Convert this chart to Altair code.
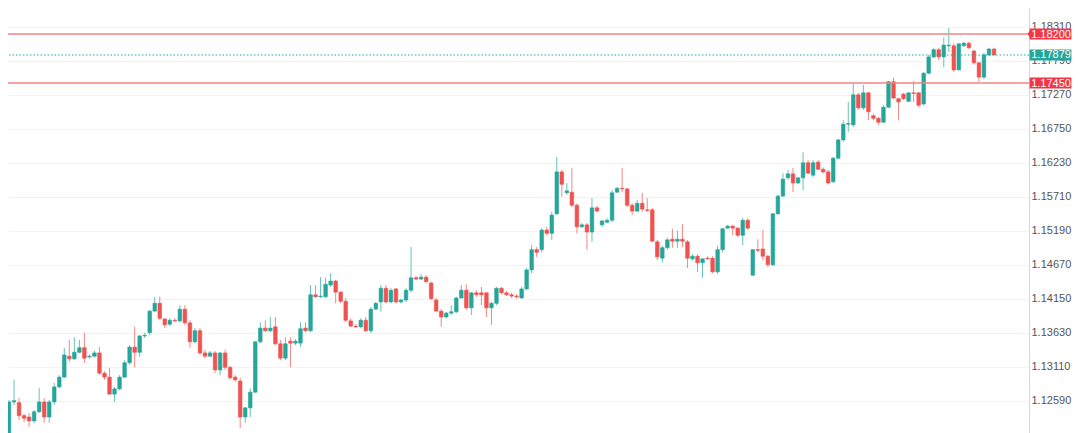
import altair as alt
import pandas as pd

opens = [1.1199,1.1257,1.1256,1.1236,1.1234,1.1228,1.1242,1.1257,1.1234,1.1257,
1.1280,1.1295,1.1327,1.1323,1.1333,1.1340,1.1326,1.1327,1.1332,1.1301,
1.1295,1.1269,1.1277,1.1295,1.1317,1.1341,1.1333,1.1358,1.1363,1.1396,
1.1408,1.1384,1.1376,1.1382,1.1381,1.1399,1.1378,1.1349,1.1366,1.1332,
1.1327,1.1332,1.1306,1.1332,1.1310,1.1295,1.1289,1.1234,1.1248,1.1272,
1.1349,1.1370,1.1366,1.1372,1.1346,1.1324,1.1350,1.1347,1.1347,1.1370,
1.1366,1.1421,1.1418,1.1418,1.1436,1.1442,1.1425,1.1411,1.1381,1.1373,
1.1372,1.1382,1.1366,1.1399,1.1410,1.1431,1.1410,1.1430,1.1410,1.1413,
1.1428,1.1447,1.1445,1.1448,1.1439,1.1413,1.1396,1.1387,1.1393,1.1395,
1.1416,1.1428,1.1401,1.1424,1.1424,1.1424,1.1401,1.1408,1.1431,1.1424,
1.1421,1.1419,1.1416,1.1430,1.1459,1.1490,1.1490,1.1520,1.1515,1.1545,
1.1609,1.1577,1.1578,1.1558,1.1525,1.1528,1.1517,1.1554,1.1528,1.1532,
1.1535,1.1578,1.1584,1.1583,1.1558,1.1549,1.1561,1.1551,1.1551,1.1502,
1.1477,1.1493,1.1506,1.1503,1.1506,1.1502,1.1476,1.1480,1.1470,1.1477,
1.1477,1.1456,1.1490,1.1523,1.1526,1.1523,1.1512,1.1535,1.1451,1.1490,
1.1491,1.1480,1.1467,1.1545,1.1572,1.1600,1.1606,1.1592,1.1600,1.1623,
1.1604,1.1624,1.1613,1.1609,1.1594,1.1630,1.1658,1.1682,1.1681,1.1727,
1.1707,1.1730,1.1695,1.1691,1.1685,1.1708,1.1747,1.1721,1.1728,1.1717,
1.1730,1.1730,1.1713,1.1760,1.1785,1.1796,1.1785,1.1802,1.1802,1.1765,
1.1802,1.1806,1.1794,1.1776,1.1754,1.1788,1.1797]

closes = [1.1257,1.1259,1.1236,1.1232,1.1228,1.1242,1.1257,1.1234,1.1257,1.1280,
1.1295,1.1329,1.1323,1.1333,1.1340,1.1324,1.1327,1.1332,1.1301,1.1295,
1.1269,1.1277,1.1295,1.1317,1.1341,1.1333,1.1358,1.1359,1.1396,1.1408,
1.1385,1.1375,1.1382,1.1381,1.1399,1.1378,1.1349,1.1366,1.1332,1.1327,
1.1332,1.1306,1.1332,1.1310,1.1294,1.1291,1.1234,1.1248,1.1272,1.1349,
1.1370,1.1366,1.1370,1.1346,1.1324,1.1346,1.1347,1.1350,1.1369,1.1366,
1.1421,1.1418,1.1419,1.1437,1.1442,1.1425,1.1411,1.1382,1.1373,1.1372,
1.1382,1.1366,1.1399,1.1408,1.1431,1.1410,1.1428,1.1410,1.1413,1.1428,
1.1447,1.1445,1.1448,1.1441,1.1415,1.1396,1.1387,1.1393,1.1395,1.1416,
1.1428,1.1401,1.1424,1.1421,1.1421,1.1401,1.1408,1.1431,1.1424,1.1421,
1.1419,1.1418,1.1430,1.1459,1.1490,1.1486,1.1520,1.1515,1.1543,1.1609,
1.1590,1.1580,1.1558,1.1525,1.1528,1.1517,1.1554,1.1549,1.1534,1.1535,
1.1577,1.1584,1.1583,1.1558,1.1549,1.1561,1.1552,1.1550,1.1503,1.1479,
1.1493,1.1505,1.1503,1.1506,1.1503,1.1477,1.1480,1.1470,1.1476,1.1476,
1.1456,1.1490,1.1522,1.1526,1.1523,1.1512,1.1535,1.1523,1.1490,1.1489,
1.1480,1.1467,1.1545,1.1572,1.1598,1.1606,1.1592,1.1600,1.1623,1.1607,
1.1623,1.1613,1.1609,1.1592,1.1630,1.1658,1.1682,1.1683,1.1727,1.1707,
1.1730,1.1701,1.1691,1.1685,1.1708,1.1747,1.1722,1.1716,1.1721,1.1730,
1.1729,1.1711,1.1760,1.1785,1.1796,1.1785,1.1803,1.1803,1.1765,1.1805,
1.1806,1.1799,1.1776,1.1754,1.1788,1.1797,1.17879]

highs = [1.1260,1.1291,1.1263,1.1239,1.1240,1.1245,1.1278,1.1263,1.1260,1.1286,
1.1298,1.1340,1.1352,1.1356,1.1352,1.1363,1.1330,1.1335,1.1341,1.1304,
1.1309,1.1280,1.1298,1.1321,1.1344,1.1372,1.1359,1.1363,1.1398,1.1418,
1.1418,1.1385,1.1385,1.1385,1.1405,1.1405,1.1382,1.1370,1.1370,1.1337,
1.1335,1.1335,1.1333,1.1337,1.1312,1.1298,1.1294,1.1249,1.1278,1.1350,
1.1379,1.1382,1.1387,1.1387,1.1352,1.1356,1.1356,1.1353,1.1379,1.1379,
1.1436,1.1436,1.1448,1.1447,1.1454,1.1444,1.1427,1.1416,1.1385,1.1376,
1.1385,1.1387,1.1402,1.1410,1.1436,1.1436,1.1431,1.1431,1.1415,1.1431,
1.1494,1.1450,1.1453,1.1451,1.1441,1.1416,1.1399,1.1395,1.1405,1.1418,
1.1436,1.1437,1.1425,1.1428,1.1433,1.1425,1.1410,1.1433,1.1433,1.1427,
1.1424,1.1422,1.1433,1.1462,1.1497,1.1494,1.1523,1.1525,1.1548,1.1632,
1.1612,1.1592,1.1615,1.1561,1.1531,1.1531,1.1569,1.1557,1.1535,1.1538,
1.1581,1.1586,1.1615,1.1584,1.1561,1.1566,1.1577,1.1569,1.1554,1.1505,
1.1496,1.1508,1.1522,1.1519,1.1529,1.1505,1.1483,1.1483,1.1477,1.1480,
1.1480,1.1496,1.1523,1.1528,1.1528,1.1525,1.1538,1.1538,1.1491,1.1506,
1.1520,1.1482,1.1546,1.1574,1.1607,1.1612,1.1615,1.1601,1.1639,1.1627,
1.1627,1.1627,1.1616,1.1612,1.1632,1.1659,1.1688,1.1716,1.1745,1.1730,
1.1742,1.1731,1.1698,1.1693,1.1711,1.1748,1.1753,1.1722,1.1730,1.1731,
1.1748,1.1731,1.1762,1.1788,1.1799,1.1799,1.1815,1.1829,1.1806,1.1806,
1.1808,1.1808,1.1796,1.1777,1.1791,1.1799,1.1799]

lows = [1.1196,1.1252,1.1229,1.1226,1.1219,1.1225,1.1240,1.1225,1.1225,1.1252,
1.1278,1.1294,1.1318,1.1321,1.1332,1.1317,1.1323,1.1326,1.1298,1.1291,
1.1268,1.1257,1.1275,1.1294,1.1314,1.1310,1.1326,1.1355,1.1359,1.1395,
1.1382,1.1370,1.1373,1.1379,1.1379,1.1375,1.1340,1.1347,1.1329,1.1324,
1.1326,1.1301,1.1298,1.1306,1.1291,1.1288,1.1217,1.1225,1.1234,1.1271,
1.1347,1.1364,1.1364,1.1344,1.1321,1.1321,1.1310,1.1344,1.1341,1.1364,
1.1364,1.1416,1.1416,1.1416,1.1433,1.1408,1.1408,1.1379,1.1372,1.1370,
1.1370,1.1364,1.1362,1.1398,1.1395,1.1408,1.1408,1.1408,1.1408,1.1410,
1.1425,1.1444,1.1444,1.1439,1.1413,1.1395,1.1372,1.1385,1.1390,1.1393,
1.1416,1.1398,1.1390,1.1418,1.1405,1.1387,1.1375,1.1405,1.1422,1.1419,
1.1416,1.1415,1.1415,1.1428,1.1454,1.1479,1.1486,1.1512,1.1505,1.1543,
1.1571,1.1574,1.1555,1.1515,1.1523,1.1490,1.1502,1.1548,1.1525,1.1531,
1.1532,1.1577,1.1578,1.1555,1.1543,1.1548,1.1548,1.1548,1.1502,1.1474,
1.1470,1.1490,1.1493,1.1493,1.1494,1.1462,1.1473,1.1456,1.1447,1.1474,
1.1454,1.1453,1.1486,1.1522,1.1512,1.1509,1.1497,1.1520,1.1450,1.1486,
1.1474,1.1463,1.1465,1.1543,1.1571,1.1597,1.1578,1.1590,1.1581,1.1606,
1.1601,1.1612,1.1607,1.1590,1.1592,1.1629,1.1655,1.1670,1.1678,1.1704,
1.1704,1.1688,1.1688,1.1681,1.1684,1.1707,1.1721,1.1688,1.1719,1.1716,
1.1716,1.1708,1.1711,1.1759,1.1783,1.1780,1.1769,1.1792,1.1762,1.1765,
1.1800,1.1797,1.1773,1.1747,1.1751,1.1786,1.1788]

tick_values = [1.12070, 1.12590, 1.13110, 1.13630, 1.14150, 1.14670,
               1.15190, 1.15710, 1.16230, 1.16750, 1.17270, 1.17790, 1.18310]

level_prices = [1.18200, 1.17450]
level_labels = ["1.18200", "1.17450"]
last_price = 1.17879
last_label = "1.17879"

UP = "#26a69a"
DOWN = "#ef5350"

n = len(opens)
df = pd.DataFrame({
    "i": list(range(1, n + 1)),
    "open": opens, "close": closes, "high": highs, "low": lows,
})
df["dir"] = ["up" if c >= o else "down" for o, c in zip(opens, closes)]

PLOT_W = 1021
PLOT_H = 425
RIGHT_PAD = 43

xscale = alt.Scale(domain=[0.80, 203.96], nice=False, zero=False, padding=0)
yscale = alt.Scale(domain=[1.12095, 1.18598], nice=False, zero=False, padding=0)
yaxis = alt.Axis(orient="right", values=tick_values, format=".5f", title=None,
                 labelFontSize=11, labelColor="#555555", labelFont="Liberation Sans",
                 ticks=False, tickSize=0, labelPadding=2, domainColor="#d6d6d6",
                 gridColor="#f3f3f3", grid=True, labelFlush=False)
color = alt.Color("dir:N", scale=alt.Scale(domain=["up", "down"], range=[UP, DOWN]), legend=None)

base = alt.Chart(df)
wicks = base.mark_rule(strokeWidth=1, opacity=0.7, clip=True).encode(
    x=alt.X("i:Q", scale=xscale, axis=None),
    y=alt.Y("low:Q", scale=yscale, axis=yaxis),
    y2="high:Q",
    color=color,
)
bodies = base.mark_bar(size=3.6, clip=True, strokeWidth=0.6).encode(
    x=alt.X("i:Q", scale=xscale, axis=None),
    y=alt.Y("open:Q", scale=yscale, axis=yaxis),
    y2="close:Q",
    color=color,
    stroke=color,
)

lv = pd.DataFrame({"price": level_prices, "label": level_labels})
levels = alt.Chart(lv).mark_rule(color="#f08585", strokeWidth=1.4).encode(
    y=alt.Y("price:Q", scale=yscale, axis=yaxis)
)
lp = pd.DataFrame({"price": [last_price], "label": [last_label]})
lastline = alt.Chart(lp).mark_rule(color=UP, strokeWidth=1, strokeDash=[1.5, 2]).encode(
    y=alt.Y("price:Q", scale=yscale, axis=yaxis)
)

badges = pd.DataFrame({
    "price": [level_prices[0], last_price, level_prices[1]],
    "label": [level_labels[0], last_label, level_labels[1]],
    "fill": ["#f23645", UP, "#f23645"],
    "shape": ["M-4.15,0L-3.8,-0.6V-1H3.8V1H-3.8V0.6Z", "M-3.8,-1H3.8V1H-3.8Z", "M-3.8,-1H3.8V1H-3.8Z"],
})
BX = PLOT_W + 21.5
badge_rect = alt.Chart(badges).mark_point(filled=True, size=121, opacity=1, strokeWidth=0).encode(
    x=alt.value(BX),
    y=alt.Y("price:Q", scale=yscale, axis=yaxis),
    color=alt.Color("fill:N", scale=None),
    shape=alt.Shape("shape:N", scale=None),
)
badge_text = alt.Chart(badges).mark_text(color="white", fontSize=11, font="Liberation Sans",
                                         align="center", baseline="middle", dy=0.5).encode(
    x=alt.value(BX + 0.5),
    y=alt.Y("price:Q", scale=yscale, axis=yaxis),
    text="label:N",
)

chart = alt.layer(wicks, bodies, levels, lastline, badge_rect, badge_text).properties(
    width=PLOT_W, height=PLOT_H,
    autosize=alt.AutoSizeParams(type="none"),
    padding={"left": 0, "top": 0, "right": RIGHT_PAD, "bottom": 0},
    background="white",
).configure_view(stroke=None)

chart.save("out.html", embed_options={"renderer": "svg", "actions": False})
